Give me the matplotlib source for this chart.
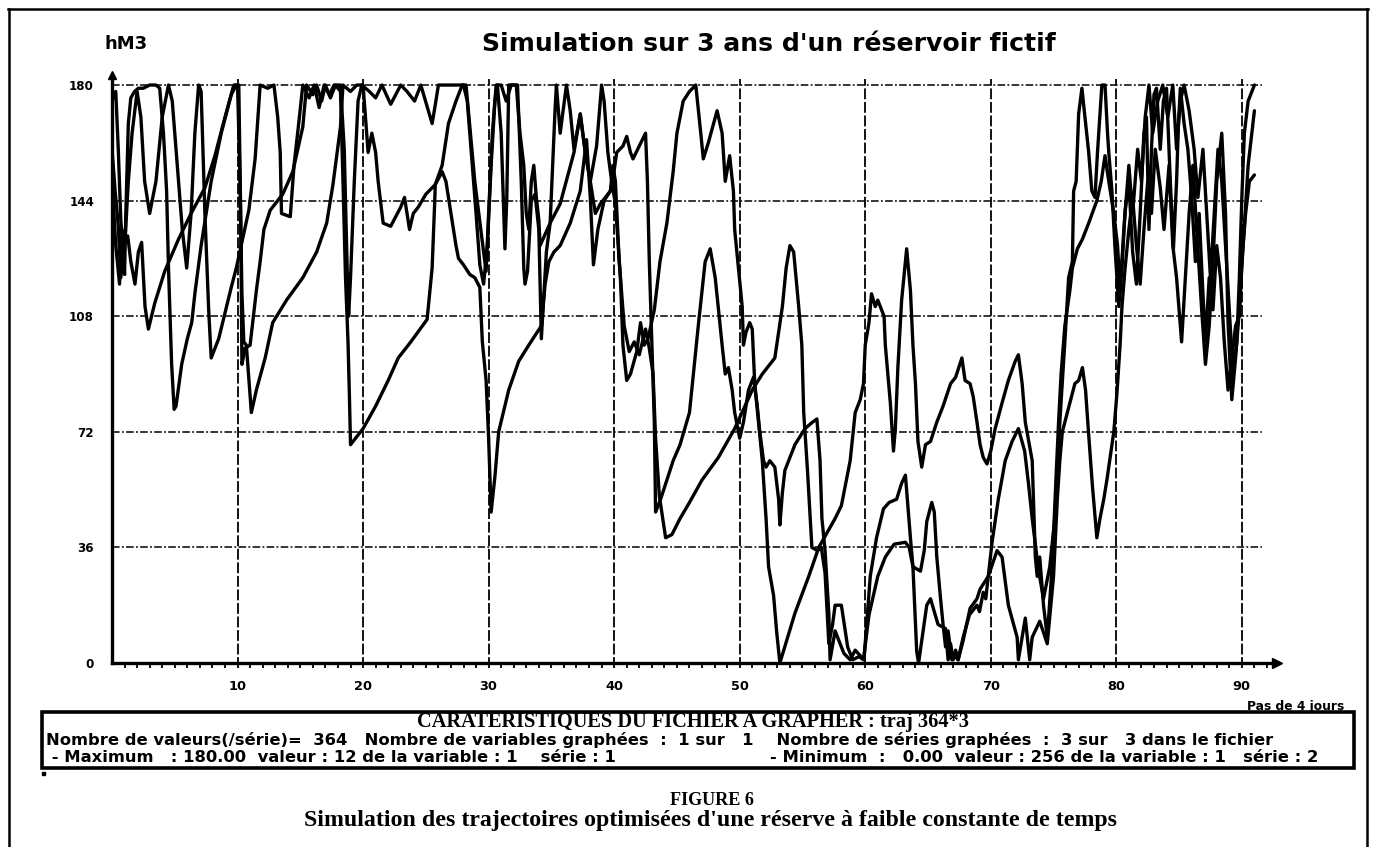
import matplotlib
matplotlib.use("Agg")
import matplotlib.pyplot as plt
from matplotlib.lines import Line2D
from matplotlib.patches import Rectangle

# ---------------- data ----------------
x_ticks = [10, 20, 30, 40, 50, 60, 70, 80, 90]
y_ticks = [0, 36, 72, 108, 144, 180]

s1_x = [0.0, 0.3, 0.5, 0.7, 0.9, 1.0, 1.1, 1.3, 1.5, 1.8, 2.1, 2.5, 3.0, 3.5, 3.8, 4.1, 4.35, 4.5, 4.75, 4.95,
        5.1, 5.55, 6.0, 6.35, 6.6, 7.1, 7.9, 8.7, 9.5, 9.9, 10.1, 10.25, 10.35, 10.6, 11.0, 11.5, 11.8, 12.1, 12.6, 13.6,
        14.4, 15.2, 15.5, 16.0, 16.3, 16.7, 17.0, 17.4, 17.8, 18.2, 18.4, 18.6, 18.8, 18.9, 19.0, 20.0, 21.0, 22.0, 22.8, 23.8,
        25.1, 25.5, 25.7, 25.75, 26.3, 26.6, 27.0, 27.4, 27.6, 28.0, 28.5, 28.9, 29.3, 29.5, 29.8, 30.0, 30.2, 30.5, 30.8, 31.6,
        32.4, 33.2, 34.2, 34.5, 34.8, 35.2, 35.7, 36.5, 37.3, 37.8, 38.1, 38.35, 38.7, 39.2, 39.7, 39.9, 40.1, 40.4, 40.8, 41.2,
        41.6, 42.0, 42.5, 42.8, 43.1, 43.3, 43.6, 44.1, 44.6, 45.25, 46.0, 47.0, 48.3, 49.6, 51.0, 51.8, 52.8, 53.4, 53.7, 54.0,
        54.3, 54.7, 54.95, 55.1, 55.4, 55.75, 56.2, 56.5, 56.8, 57.1, 57.4, 57.6, 58.1, 58.6, 59.0, 59.5, 59.86, 60.3, 61.0, 61.6,
        62.3, 63.2, 63.5, 63.8, 64.4, 64.7, 64.9, 65.3, 65.5, 65.7, 66.0, 66.2, 66.4, 66.6, 66.9, 67.2, 67.4, 67.8, 68.3, 68.9,
        69.1, 69.4, 69.6, 69.8, 70.5, 70.9, 71.4, 72.1, 72.2, 72.75, 73.1, 73.3, 73.9, 74.5, 75.0, 75.3, 75.5, 75.7, 76.3, 76.7,
        77.0, 77.3, 77.55, 77.8, 78.1, 78.45, 78.7, 79.0, 79.25, 79.8, 80.05, 80.3, 80.45, 80.7, 81.0, 81.3, 81.6, 81.9, 82.2, 82.5,
        82.8, 83.1, 83.5, 83.8, 84.2, 84.5, 84.8, 85.2, 85.5, 85.8, 86.1, 86.4, 86.8, 87.1, 87.4, 87.7, 88.0, 88.4, 88.7, 88.9,
        89.2, 89.5, 89.8, 90.1, 90.5, 91.0]
s1_y = [175, 178, 160, 138, 128, 121, 140, 168, 176, 178, 179, 179, 180, 180, 179, 165, 147, 123, 93, 79,
        80, 93, 101, 106, 115, 130, 150, 165, 177, 180, 180, 140, 93, 98, 99, 116, 125, 135, 141, 146,
        153, 167, 180, 177, 180, 175, 180, 176, 180, 178, 150, 120, 100, 85, 68, 73, 80, 88, 95, 100,
        107, 123, 143, 149, 153, 150, 140, 130, 126, 124, 121, 120, 117, 100, 88, 70, 47, 58, 72, 85,
        94, 99, 105, 118, 125, 128, 130, 137, 147, 163, 145, 124, 135, 144, 147, 155, 150, 125, 105, 97,
        100, 96, 104, 98, 90, 70, 52, 39, 40, 45, 50, 57, 64, 73, 85, 90, 95, 111, 123, 130,
        128, 111, 99, 78, 60, 36, 35, 36, 28, 6, 12, 18, 18, 5, 1, 2, 1, 15, 27, 33,
        37, 37.6, 36, 30, 28.6, 35, 44, 50, 47, 33, 20, 12, 5, 10, 1, 2, 1, 8, 15, 18,
        16, 22, 20, 27, 35, 33, 18, 8, 1, 14, 1, 8, 13, 6, 27, 51, 63, 72, 81, 87,
        88, 92, 85, 71, 55, 39, 45, 51, 57, 72, 84, 99, 111, 123, 135, 145, 130, 118, 135, 150,
        140, 160, 148, 135, 155, 130, 120, 100, 120, 140, 155, 135, 110, 93, 105, 125, 150, 165, 140, 106,
        82, 95, 110, 130, 155, 172]

s2_x = [0.0, 0.25, 0.5, 0.7, 1.0, 1.25, 1.5, 1.83, 2.1, 2.36, 2.63, 2.9, 3.4, 4.2, 5.3, 6.3, 7.4, 8.2, 9.0, 9.7,
        10.0, 10.2, 10.35, 10.5, 10.7, 11.1, 11.5, 12.2, 12.8, 13.9, 15.2, 16.3, 17.1, 17.6, 18.2, 18.4, 19.0, 19.5, 20.0, 20.4,
        20.7, 21.0, 21.2, 21.6, 22.2, 23.0, 23.3, 23.7, 24.0, 24.4, 25.0, 25.5, 25.75, 26.3, 26.8, 27.4, 27.9, 28.2, 28.9, 29.6,
        29.8, 30.0, 30.3, 30.6, 31.0, 31.4, 31.8, 32.2, 32.5, 32.8, 33.0, 33.2, 33.4, 33.6, 33.8, 34.0, 34.1, 34.9, 35.7, 36.8,
        37.3, 37.7, 38.1, 38.5, 38.9, 39.7, 39.95, 40.2, 40.7, 41.0, 41.3, 41.5, 42.0, 42.5, 42.65, 42.8, 43.0, 43.2, 43.3, 43.7,
        44.2, 44.7, 45.25, 46.0, 46.7, 47.25, 47.65, 48.05, 48.6, 48.85, 49.1, 49.4, 49.6, 50.0, 50.3, 50.7, 51.1, 51.4, 51.6, 51.9,
        52.1, 52.4, 52.8, 53.1, 53.2, 53.4, 53.6, 53.9, 54.4, 55.2, 55.8, 56.15, 56.4, 56.55, 56.8, 57.1, 57.2, 57.6, 58.3, 58.8,
        59.2, 59.9, 60.4, 60.9, 61.45, 61.9, 62.5, 62.9, 63.2, 63.6, 63.8, 64.1, 64.25, 64.9, 65.2, 65.8, 66.4, 66.6, 66.8, 67.0,
        67.2, 67.4, 67.8, 68.35, 68.9, 69.15, 69.8, 70.1, 70.6, 71.15, 71.7, 72.2, 72.7, 73.0, 73.3, 73.8, 74.2, 74.7, 75.1, 75.5,
        75.9, 76.2, 76.5, 76.6, 76.8, 77.0, 77.26, 77.5, 77.8, 78.05, 78.3, 78.5, 78.7, 78.85, 79.1, 79.3, 79.4, 79.65, 79.9, 80.2,
        80.45, 80.7, 81.0, 81.3, 81.6, 81.9, 82.2, 82.4, 82.6, 82.8, 83.0, 83.2, 83.5, 83.75, 84.0, 84.3, 84.55, 84.8, 84.95, 85.1,
        85.4, 85.7, 86.0, 86.3, 86.6, 86.9, 87.1, 87.4, 87.7, 88.0, 88.3, 88.6, 88.9, 89.2, 89.5, 89.8, 90.0, 90.3, 90.6, 91.0]
s2_y = [160, 147, 136, 120, 131, 133, 125, 118, 128, 131, 111, 104, 112, 122, 132, 140, 148, 158, 170, 180,
        180, 150, 115, 100, 99, 78, 85, 95, 106, 113, 120, 128, 137, 149, 167, 180, 178, 180, 180, 159,
        165, 159, 150, 137, 136, 142, 145, 135, 140, 142, 146, 148, 149, 155, 168, 175, 180, 180, 150, 128,
        122, 140, 165, 180, 180, 175, 180, 180, 165, 155, 140, 135, 150, 155, 145, 138, 130, 137, 143, 159,
        171, 159, 150, 140, 143, 147, 152, 159, 161, 164, 159, 157, 161, 165, 150, 125, 100, 75, 47, 51,
        57, 63, 68, 78, 105, 125, 129, 120, 99, 90, 92, 85, 78, 70, 75, 85, 89, 80, 72, 63,
        61, 63, 61, 51, 43, 53, 60, 63, 68, 73, 75, 76, 63, 45, 35, 15.5, 1, 10, 3, 1,
        4, 1, 27, 39, 48, 50, 51, 56, 58.5, 39, 30, 3.6, 0, 18, 20, 12, 10.7, 1, 6, 1,
        4, 1, 7, 17, 20, 23, 27, 37.5, 51, 63, 69, 73, 66, 56, 45, 29, 20, 30, 45, 75,
        100, 120, 125, 147, 150, 171, 179, 170, 159, 147, 145, 159, 171, 180, 180, 165, 159, 147, 129, 111,
        123, 141, 150, 128, 118, 140, 165, 170, 135, 160, 177, 179, 160, 175, 179, 150, 129, 150, 168, 179,
        168, 160, 145, 125, 140, 115, 100, 120, 110, 130, 120, 100, 85, 95, 105, 108, 125, 140, 150, 152]

s3_x = [0.0, 0.3, 0.6, 0.8, 1.03, 1.3, 1.6, 2.0, 2.3, 2.6, 3.0, 3.5, 4.0, 4.5, 4.8, 5.2, 5.6, 5.95, 6.3, 6.6,
        6.9, 7.1, 7.4, 7.7, 7.9, 8.5, 9.0, 9.5, 9.9, 10.4, 10.9, 11.4, 11.8, 12.4, 12.9, 13.2, 13.4, 13.5, 14.2, 14.5,
        14.9, 15.2, 15.7, 16.1, 16.5, 16.9, 17.3, 17.7, 18.2, 18.5, 18.75, 18.85, 19.0, 19.3, 19.6, 19.9, 20.5, 21.0, 21.5, 22.2,
        23.0, 23.5, 24.1, 24.6, 25.2, 25.5, 25.8, 26.0, 27.0, 28.0, 28.3, 28.6, 29.0, 29.3, 29.6, 29.9, 30.2, 30.5, 30.7, 31.0,
        31.3, 31.45, 31.6, 32.3, 32.6, 32.8, 32.9, 33.1, 33.4, 33.7, 34.0, 34.2, 34.6, 34.9, 35.3, 35.4, 35.7, 36.2, 36.5, 36.8,
        37.3, 37.7, 38.1, 38.6, 39.0, 39.2, 39.5, 39.8, 40.1, 40.5, 40.7, 41.0, 41.3, 41.8, 42.1, 42.4, 42.7, 43.2, 43.65, 44.2,
        44.7, 45.0, 45.5, 46.0, 46.5, 46.9, 47.1, 47.5, 48.2, 48.6, 48.85, 49.2, 49.5, 49.6, 49.9, 50.2, 50.3, 50.5, 50.8, 51.0,
        51.2, 51.5, 51.8, 52.1, 52.3, 52.7, 52.95, 53.2, 54.4, 55.5, 56.3, 57.6, 58.1, 58.8, 59.2, 59.6, 59.86, 60.0, 60.3, 60.5,
        60.8, 61.0, 61.2, 61.5, 61.6, 62.0, 62.25, 62.4, 62.6, 62.9, 63.2, 63.3, 63.6, 63.8, 64.0, 64.2, 64.5, 64.8, 65.2, 65.7,
        66.2, 66.8, 67.2, 67.7, 67.95, 68.35, 68.6, 68.9, 69.15, 69.4, 69.7, 70.0, 70.35, 70.9, 71.4, 71.95, 72.2, 72.5, 72.75, 73.3,
        73.4, 73.55, 73.7, 73.9, 74.2, 74.5, 74.8, 75.0, 75.2, 75.4, 75.6, 75.9, 76.3, 76.5, 76.9, 77.3, 77.8, 78.45, 78.8, 79.1,
        79.4, 79.8, 80.1, 80.3, 80.6, 81.0, 81.3, 81.7, 82.0, 82.3, 82.6, 82.9, 83.3, 83.7, 84.1, 84.5, 84.8, 85.1, 85.4, 85.8,
        86.2, 86.5, 86.9, 87.2, 87.5, 87.8, 88.1, 88.4, 88.7, 89.0, 89.3, 89.6, 89.8, 90.0, 90.2, 90.5, 91.0]
s3_y = [150, 130, 118, 135, 131, 150, 165, 178, 170, 150, 140, 150, 170, 180, 175, 155, 135, 123, 140, 165,
        180, 178, 140, 110, 95, 101, 109, 117, 123, 132, 141, 157, 180, 179, 180, 170, 159, 140, 139, 155,
        169, 180, 176, 180, 173, 180, 177, 180, 180, 160, 120, 108, 120, 150, 175, 180, 178, 176, 180, 174,
        180, 178, 175, 180, 172, 168, 175, 180, 180, 180, 175, 160, 140, 124, 118, 130, 155, 175, 180, 165,
        129, 145, 180, 180, 150, 123, 118, 122, 144, 146, 135, 101, 128, 137, 173, 180, 165, 180, 172, 160,
        171, 159, 150, 161, 180, 175, 159, 150, 143, 120, 99, 88, 90, 97, 106, 99, 101, 110, 125, 137,
        153, 165, 175, 178, 180, 165, 157, 162, 172, 165, 150, 158, 147, 135, 123, 111, 99, 103, 106, 104,
        87, 75, 63, 45, 30, 21, 9.5, 0, 15.5, 27, 36, 45, 49, 63, 78, 82, 87, 99, 106, 115,
        111, 113, 111, 108, 99, 81, 66, 73, 92, 113, 125, 129, 116, 99, 87, 69, 61, 68, 69, 75,
        80, 87, 89, 95, 88, 87, 83, 75, 68, 64, 62, 66, 73, 81, 88, 94, 96, 87, 75, 63,
        51, 33, 27, 33, 18, 8, 25, 40, 58, 75, 90, 105, 116, 123, 129, 132, 137, 144, 150, 158,
        150, 140, 130, 116, 135, 155, 140, 160, 150, 170, 180, 165, 175, 180, 170, 180, 160, 175, 180, 172,
        160, 145, 160, 140, 120, 140, 160, 150, 130, 110, 90, 100, 120, 145, 165, 175, 180]

series = [(s1_x, s1_y), (s2_x, s2_y), (s3_x, s3_y)]

title = "Simulation sur 3 ans d'un réservoir fictif"
y_unit = "hM3"
x_unit = "Pas de 4 jours"
box_l1 = "CARATERISTIQUES DU FICHIER A GRAPHER : traj 364*3"
box_l2 = ("Nombre de valeurs(/série)=  364   Nombre de variables graphées  :  1 sur   1    "
          "Nombre de séries graphées  :  3 sur   3 dans le fichier")
box_l3 = [" - Maximum   : 180.00  valeur : 12 de la variable : 1    série : 1",
          "- Minimum  :   0.00  valeur : 256 de la variable : 1   série : 2"]
fig_num = "FIGURE 6"
caption = "Simulation des trajectoires optimisées d'une réserve à faible constante de temps"

# ---------------- figure ----------------
W, H = 1380, 847
fig = plt.figure(figsize=(W / 100, H / 100), dpi=100)
fig.patch.set_facecolor("white")


def fx(px):
    return px / W


def fy(py):
    return 1 - py / H


X0, XR = 112, 1277      # pixel of x=0 and right end of axis
Y0, YT = 663, 75.4      # pixel of y=0 and top of axis
ax = fig.add_axes([fx(X0), fy(Y0), (XR - X0) / W, (Y0 - YT) / H])
ax.set_xlim(0, 92.8)
ax.set_ylim(0, 183)
ax.set_facecolor("white")

# grid
ax.hlines(y_ticks[1:], 0, 91.6, colors="black", linewidth=1.1,
          linestyles=[(0, (5, 1.5, 1.2, 1.5))], zorder=1)
ax.vlines(x_ticks, -1.5, 182, colors="black", linewidth=1.3,
          linestyles=[(0, (6, 1.5))], zorder=1, clip_on=False)

# series
for sx, sy in series:
    ax.plot(sx, sy, color="black", linewidth=2.4, solid_joinstyle="round",
            solid_capstyle="round", zorder=3)

# spines and arrows
for s in ["top", "right"]:
    ax.spines[s].set_visible(False)
ax.spines["left"].set_linewidth(2.4)
ax.spines["bottom"].set_linewidth(2.4)
ax.plot([0], [183], marker="^", markersize=6, color="black", clip_on=False, zorder=5)
ax.plot([92.8], [0], marker=">", markersize=7, color="black", clip_on=False, zorder=5)

# ticks
ax.set_xticks(x_ticks)
ax.set_xticklabels([str(v) for v in x_ticks], fontsize=9.3, fontweight="bold", family="DejaVu Sans")
ax.set_xticks(list(range(1, 93)), minor=True)
ax.tick_params(axis="x", which="major", length=0, pad=12)
ax.tick_params(axis="x", which="minor", length=3.5, width=1.3, direction="out")
ax.set_yticks(y_ticks)
ax.set_yticklabels([str(v) for v in y_ticks], fontsize=8.6, fontweight="bold", family="DejaVu Sans")
ax.tick_params(axis="y", which="major", length=0, pad=13)

renderer = fig.canvas.get_renderer()
sans = ["DejaVu Sans"]
serif = ["Liberation Serif", "DejaVu Serif"]


def put(s, x0, x1, yc, family, weight="bold", max_size=None):
    t = fig.text(fx(x0), fy(yc), s, fontsize=10, family=family, weight=weight,
                 ha="left", va="center")
    bb = t.get_window_extent(renderer=renderer)
    size = 10 * (x1 - x0) / bb.width
    if max_size is not None:
        size = min(size, max_size)
    t.set_fontsize(size)
    return t


def spread(pieces, x0, x1, yc, size, family):
    """First piece starts at x0, last piece ends at x1."""
    texts = [fig.text(0, fy(yc), s, fontsize=size, family=family, weight="bold",
                      ha="left", va="center") for s in pieces]
    widths = [t.get_window_extent(renderer=renderer).width for t in texts]
    gap = (x1 - x0 - sum(widths)) / max(len(pieces) - 1, 1)
    x = x0
    for t, w in zip(texts, widths):
        t.set_x(fx(x))
        x += w + gap


put(y_unit, 104, 147, 44, sans)
put(title, 482, 1056, 44, sans)
put(x_unit, 1247, 1345, 706, sans)

# box
fig.patches.append(Rectangle((fx(42), fy(768)), (1354 - 42) / W, (768 - 712) / H,
                             transform=fig.transFigure, fill=False, edgecolor="black",
                             linewidth=2.6))
put(box_l1, 417, 967, 722, serif)
l2 = put(box_l2, 46, 1350, 740, sans, max_size=11.8)
spread(box_l3, 46, 1318, 757.5, l2.get_fontsize(), sans)
fig.patches.append(Rectangle((fx(42), fy(775)), 3 / W, 3 / H, transform=fig.transFigure,
                             color="black"))

put(fig_num, 670, 754, 800, serif)
put(caption, 304, 1115, 820, serif)

# page border
fig.lines.append(Line2D([fx(8), fx(1368)], [fy(9), fy(9)], transform=fig.transFigure,
                        color="black", linewidth=1.8))
fig.lines.append(Line2D([fx(9), fx(9)], [fy(9), fy(847)], transform=fig.transFigure,
                        color="black", linewidth=1.8))
fig.lines.append(Line2D([fx(1367), fx(1367)], [fy(9), fy(847)], transform=fig.transFigure,
                        color="black", linewidth=1.8))

fig.savefig("out.png", dpi=100, facecolor="white")
